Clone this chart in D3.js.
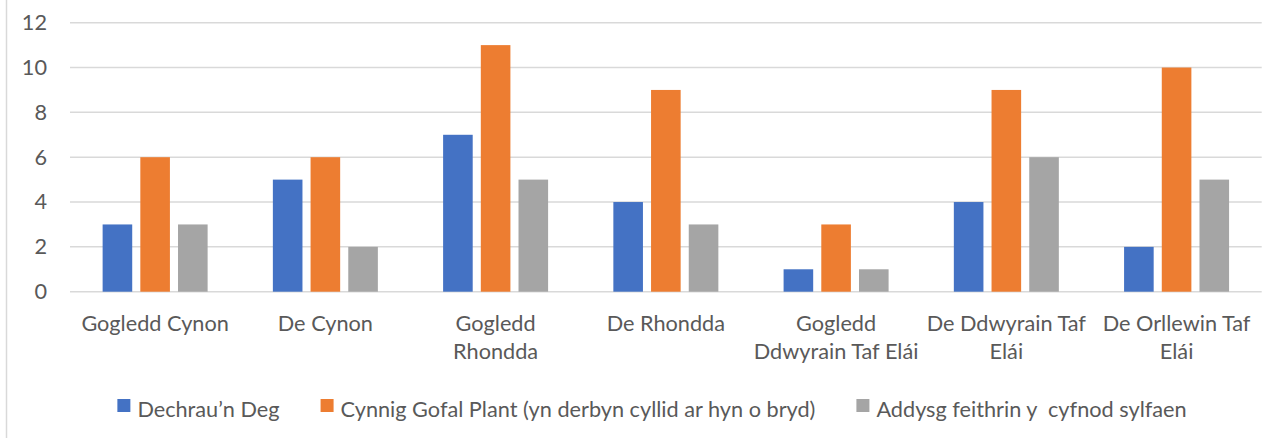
<!DOCTYPE html>
<html>
<head>
<meta charset="utf-8">
<script src="https://cdn.jsdelivr.net/npm/d3@7"></script>
<style>
  html, body { margin: 0; padding: 0; background: #fff; }
  svg text { font-family: Lato, "Open Sans", sans-serif; fill: #595959; white-space: pre; }
</style>
</head>
<body>
<svg id="chart" width="1270" height="438"></svg>
<script>
// Ardaloedd (areas)
const categories = [
  "Gogledd Cynon", "De Cynon", "Gogledd Rhondda", "De Rhondda",
  "Gogledd Ddwyrain Taf Elái", "De Ddwyrain Taf Elái", "De Orllewin Taf Elái"
];
// Axis labels, wrapped onto lines
const categoryLabels = [
  ["Gogledd Cynon"], ["De Cynon"], ["Gogledd", "Rhondda"], ["De Rhondda"],
  ["Gogledd", "Ddwyrain Taf Elái"], ["De Ddwyrain Taf", "Elái"], ["De Orllewin Taf", "Elái"]
];
const seriesNames = [
  "Dechrau’n Deg",
  "Cynnig Gofal Plant (yn derbyn cyllid ar hyn o bryd)",
  "Addysg feithrin y  cyfnod sylfaen"
];
const dechrauNDeg    = [3, 5, 7, 4, 1, 4, 2];
const cynnigGofal    = [6, 6, 11, 9, 3, 9, 10];
const addysgFeithrin = [3, 2, 5, 3, 1, 6, 5];
const yTicks = [0, 2, 4, 6, 8, 10, 12];
const colors = ["#4472C4", "#ED7D31", "#A5A5A5"];

const seriesValues = [dechrauNDeg, cynnigGofal, addysgFeithrin];

const svg = d3.select("#chart");
const W = 1270, H = 438;
const plot = { left: 70, right: 1261.7, top: 22.7, bottom: 291.7 };
const fontSize = 21.7;

// chart frame edge
svg.append("line")
  .attr("x1", 6.5).attr("x2", 6.5).attr("y1", 0).attr("y2", H)
  .attr("stroke", "#d9d9d9").attr("stroke-width", 1.5);

const x0 = d3.scaleBand().domain(categories).range([plot.left, plot.right]).paddingInner(0).paddingOuter(0);
const groupInner = 105;
const x1 = d3.scaleBand().domain(d3.range(3)).range([0, groupInner]).paddingInner(0.215).paddingOuter(0);
const y = d3.scaleLinear().domain([0, 12]).range([plot.bottom, plot.top]);

// gridlines
svg.append("g")
  .selectAll("line").data(yTicks).join("line")
  .attr("x1", plot.left).attr("x2", plot.right)
  .attr("y1", d => y(d)).attr("y2", d => y(d))
  .attr("stroke", "#d9d9d9").attr("stroke-width", 1.5);

// y axis labels
const yAxis = d3.axisLeft(y).tickValues(yTicks).tickSize(0).tickPadding(0);
const yg = svg.append("g").attr("transform", `translate(47,0)`).call(yAxis);
yg.select(".domain").remove();
yg.selectAll("text").attr("font-size", fontSize).attr("font-family", null).style("fill", "#595959");

// bars
const groups = svg.append("g").selectAll("g").data(categories).join("g")
  .attr("transform", d => `translate(${x0(d) + (x0.bandwidth() - groupInner) / 2},0)`);
groups.selectAll("rect")
  .data((d, i) => seriesValues.map((vals, s) => ({ s, v: vals[i] })))
  .join("rect")
  .attr("x", d => x1(d.s))
  .attr("width", x1.bandwidth())
  .attr("y", d => y(d.v))
  .attr("height", d => y(0) - y(d.v))
  .attr("fill", d => colors[d.s]);

// category labels
const lineH = 28;
const cat = svg.append("g").selectAll("text").data(categories).join("text")
  .attr("text-anchor", "middle")
  .attr("font-size", fontSize)
  .attr("x", d => x0(d) + x0.bandwidth() / 2)
  .attr("y", 330.5);
cat.each(function(d, i) {
  d3.select(this).selectAll("tspan").data(categoryLabels[i]).join("tspan")
    .attr("x", x0(d) + x0.bandwidth() / 2)
    .attr("dy", (t, j) => j === 0 ? 0 : lineH)
    .text(t => t);
});

// legend
const legend = svg.append("g");
const items = legend.selectAll("g").data(seriesNames).join("g");
items.append("rect").attr("width", 13).attr("height", 13).attr("y", 399)
  .attr("fill", (d, i) => colors[i]);
items.append("text").attr("x", 20).attr("y", 416.5).attr("font-size", fontSize).text(d => d);
let widths = [];
items.each(function() { widths.push(this.querySelector("text").getComputedTextLength()); });
const gap = 41;
const total = d3.sum(widths, w => 20 + w) + gap * (widths.length - 1);
let cx = 652 - total / 2;
items.attr("transform", (d, i) => {
  const t = `translate(${cx},0)`;
  cx += 20 + widths[i] + gap;
  return t;
});
</script>
</body>
</html>
